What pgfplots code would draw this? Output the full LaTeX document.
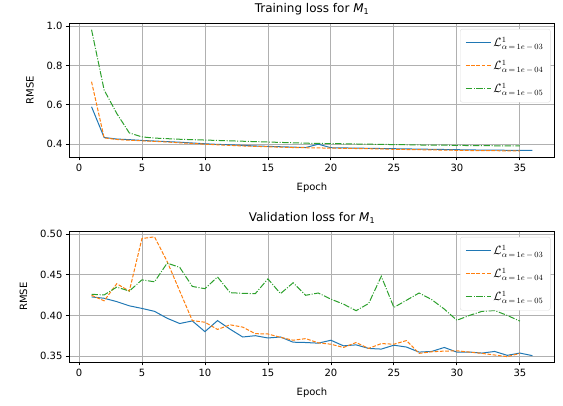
\documentclass[border=0pt]{standalone}
\usepackage{fontspec}
\setmainfont{DejaVu Sans}
\usepackage{pgfplots}
\pgfplotsset{compat=1.18}

\definecolor{c0}{HTML}{1F77B4}
\definecolor{c1}{HTML}{FF7F0E}
\definecolor{c2}{HTML}{2CA02C}
\definecolor{gridc}{HTML}{B0B0B0}
\definecolor{legc}{HTML}{DCDCDC}

\newcommand{\lbl}[1]{$\mathcal{L}^1_{\alpha\,=\,1e\,-\,#1}$}

\pgfplotsset{
  lossax/.style={
    scale only axis,
    width=485pt,
    xmin=-0.75, xmax=37.75,
    xtick={0,5,...,35},
    grid=major,
    major grid style={gridc, line width=0.8pt},
    axis line style={line width=0.8pt},
    tick align=outside,
    xtick pos=bottom, ytick pos=left,
    major tick length=3.5pt,
    tick style={black, line width=0.8pt},
    every tick label/.append style={font=\fontsize{10}{12}\selectfont},
    label style={font=\fontsize{10}{12}\selectfont},
    title style={font=\fontsize{12}{14}\selectfont, yshift=-2pt},
    /pgf/number format/assume math mode=true,
    xlabel={Epoch}, ylabel={RMSE},
    xlabel shift=4pt, ylabel shift=6pt,
    legend cell align=left,
    legend style={at={(1,1)}, anchor=north east, xshift=-4pt, yshift=-6pt,
      draw=legc, rounded corners=2pt, fill=white,
      font=\fontsize{12}{14}\selectfont,
      row sep=8pt, inner xsep=5pt, inner ysep=6pt},
  },
  s0/.style={draw=c0, color=c0, line width=1pt,
    legend image code/.code={\draw[c0, line width=1.2pt] (0pt,0pt) -- (25pt,0pt);}},
  s1/.style={draw=c1, color=c1, line width=1pt, dash pattern=on 3.7pt off 1.6pt,
    legend image code/.code={\draw[c1, line width=1.2pt, dash pattern=on 3.7pt off 1.6pt] (0pt,0pt) -- (25pt,0pt);}},
  s2/.style={draw=c2, color=c2, line width=1pt, dash pattern=on 6.4pt off 1.6pt on 1pt off 1.6pt,
    legend image code/.code={\draw[c2, line width=1.2pt, dash pattern=on 6.4pt off 1.6pt on 1pt off 1.6pt] (0pt,0pt) -- (25pt,0pt);}},
}

\begin{document}
\begin{tikzpicture}[x=1pt,y=1pt]
\useasboundingbox (0,0) rectangle (563,406);

\begin{axis}[lossax,
  at={(69.5pt,249pt)}, anchor=south west,
  height=134pt,
  ymin=0.335, ymax=1.015,
  ytick={0.4,0.6,0.8,1.0},
  yticklabel style={/pgf/number format/.cd, fixed, fixed zerofill, precision=1},
  title={Training loss for {\itshape M}\textsubscript{1}},
]
\addplot[s0] coordinates {
(1,0.590) (2,0.434) (3,0.426) (4,0.423) (5,0.419) (6,0.416) (7,0.413) (8,0.410)
(9,0.406) (10,0.402) (11,0.399) (12,0.397) (13,0.394) (14,0.391) (15,0.389)
(16,0.387) (17,0.385) (18,0.383) (19,0.400) (20,0.382) (21,0.381) (22,0.380)
(23,0.379) (24,0.378) (25,0.377) (26,0.376) (27,0.375) (28,0.374) (29,0.373)
(30,0.372) (31,0.371) (32,0.370) (33,0.370) (34,0.369) (35,0.368) (36,0.368)};
\addlegendentry{\lbl{03}}
\addplot[s1] coordinates {
(1,0.717) (2,0.432) (3,0.424) (4,0.420) (5,0.417) (6,0.414) (7,0.411) (8,0.407)
(9,0.404) (10,0.400) (11,0.397) (12,0.394) (13,0.391) (14,0.389) (15,0.387)
(16,0.385) (17,0.383) (18,0.382) (19,0.381) (20,0.380) (21,0.379) (22,0.378)
(23,0.377) (24,0.376) (25,0.374) (26,0.373) (27,0.372) (28,0.371) (29,0.370)
(30,0.369) (31,0.368) (32,0.367) (33,0.367) (34,0.366) (35,0.366)};
\addlegendentry{\lbl{04}}
\addplot[s2] coordinates {
(1,0.981) (2,0.675) (3,0.556) (4,0.457) (5,0.437) (6,0.431) (7,0.428) (8,0.425)
(9,0.423) (10,0.421) (11,0.419) (12,0.417) (13,0.415) (14,0.413) (15,0.411)
(16,0.409) (17,0.407) (18,0.405) (19,0.404) (20,0.403) (21,0.402) (22,0.401)
(23,0.400) (24,0.399) (25,0.398) (26,0.397) (27,0.396) (28,0.395) (29,0.395)
(30,0.394) (31,0.393) (32,0.393) (33,0.392) (34,0.391) (35,0.391)};
\addlegendentry{\lbl{05}}
\end{axis}

\begin{axis}[lossax,
  at={(69.5pt,44pt)}, anchor=south west,
  height=131pt,
  ymin=0.3426, ymax=0.5040,
  ytick={0.35,0.40,0.45,0.50},
  yticklabel style={/pgf/number format/.cd, fixed, fixed zerofill, precision=2},
  title={Validation loss for {\itshape M}\textsubscript{1}},
]
\addplot[s0] coordinates {
(1,0.4228) (2,0.4211) (3,0.4170) (4,0.4118) (5,0.4086) (6,0.4050) (7,0.3965)
(8,0.3900) (9,0.3932) (10,0.3800) (11,0.3936) (12,0.3830) (13,0.3734) (14,0.3750)
(15,0.3722) (16,0.3734) (17,0.3670) (18,0.3666) (19,0.3658) (20,0.3694) (21,0.3625)
(22,0.3637) (23,0.3593) (24,0.3585) (25,0.3633) (26,0.3610) (27,0.3548) (28,0.3556)
(29,0.3605) (30,0.3548) (31,0.3548) (32,0.3536) (33,0.3556) (34,0.3508) (35,0.3536)
(36,0.3504)};
\addlegendentry{\lbl{03}}
\addplot[s1] coordinates {
(1,0.4248) (2,0.4180) (3,0.4390) (4,0.4300) (5,0.4947) (6,0.4968) (7,0.4664)
(8,0.4300) (9,0.3936) (10,0.3916) (11,0.3827) (12,0.3884) (13,0.3856) (14,0.3775)
(15,0.3771) (16,0.3730) (17,0.3694) (18,0.3714) (19,0.3662) (20,0.3645) (21,0.3605)
(22,0.3666) (23,0.3593) (24,0.3653) (25,0.3645) (26,0.3690) (27,0.3532) (28,0.3552)
(29,0.3560) (30,0.3564) (31,0.3548) (32,0.3532) (33,0.3512) (34,0.3492) (35,0.3532)};
\addlegendentry{\lbl{04}}
\addplot[s2] coordinates {
(1,0.4260) (2,0.4252) (3,0.4349) (4,0.4300) (5,0.4438) (6,0.4414) (7,0.4644)
(8,0.4592) (9,0.4357) (10,0.4329) (11,0.4474) (12,0.4280) (13,0.4272) (14,0.4268)
(15,0.4450) (16,0.4268) (17,0.4402) (18,0.4248) (19,0.4276) (20,0.4200) (21,0.4139)
(22,0.4058) (23,0.4147) (24,0.4482) (25,0.4098) (26,0.4187) (27,0.4276) (28,0.4195)
(29,0.4078) (30,0.3940) (31,0.4000) (32,0.4050) (33,0.4060) (34,0.4000) (35,0.3930)};
\addlegendentry{\lbl{05}}
\end{axis}
\end{tikzpicture}
\end{document}
